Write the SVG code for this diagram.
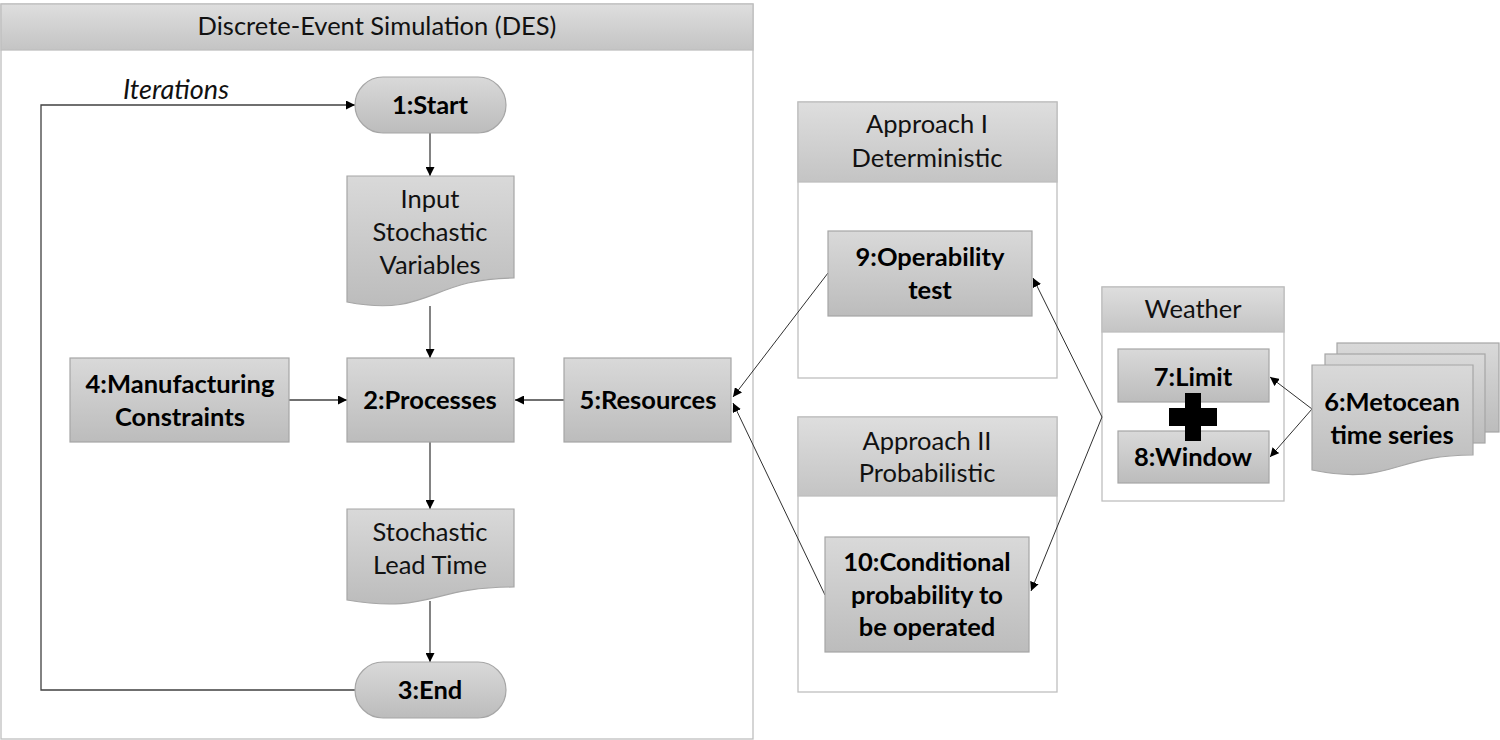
<svg xmlns="http://www.w3.org/2000/svg" width="1500" height="740" viewBox="0 0 1500 740">
<defs>
<linearGradient id="g" x1="0" y1="0" x2="0" y2="1">
<stop offset="0" stop-color="#d9d9d9"/>
<stop offset="1" stop-color="#bcbcbc"/>
</linearGradient>
<linearGradient id="gh" x1="0" y1="0" x2="0" y2="1">
<stop offset="0" stop-color="#dedede"/>
<stop offset="1" stop-color="#c4c4c4"/>
</linearGradient>
<marker id="ah" viewBox="0 0 10 10" refX="10" refY="5" markerWidth="9" markerHeight="9" markerUnits="userSpaceOnUse" orient="auto">
<path d="M0,0 L10,5 L0,10 Z" fill="#000"/>
</marker>
</defs>
<style>
.cont{fill:#fff;stroke:#bfbfbf;stroke-width:1.3}
.hdr{fill:url(#gh);stroke:#bfbfbf;stroke-width:1.3}
.node{fill:url(#g);stroke:#a6a6a6;stroke-width:1.2}
.t{font-family:Lato,"Open Sans","Liberation Sans",sans-serif;font-size:25.5px;fill:#111;text-anchor:middle}
.b{font-weight:bold;fill:#000}
.i{font-style:italic;text-anchor:start;font-size:27px}
.c{fill:none;stroke:#404040;stroke-width:1.3}
.d{fill:none;stroke:#303030;stroke-width:1}
</style>

<g id="des">
<rect class="cont" x="1" y="4" width="752" height="735"/>
<rect class="hdr" x="1" y="4" width="752" height="46"/>
<text class="t" x="377" y="35">Discrete-Event Simulation (DES)</text>
</g>

<g id="approach1">
<rect class="cont" x="798" y="102" width="259" height="276"/>
<rect class="hdr" x="798" y="102" width="259" height="80"/>
<text class="t" x="927" y="133">Approach I</text>
<text class="t" x="927" y="167">Deterministic</text>
</g>

<g id="approach2">
<rect class="cont" x="798" y="417" width="259" height="275"/>
<rect class="hdr" x="798" y="417" width="259" height="79"/>
<text class="t" x="927" y="450">Approach II</text>
<text class="t" x="927" y="482">Probabilistic</text>
</g>

<g id="weather">
<rect class="cont" x="1102" y="287" width="182" height="214"/>
<rect class="hdr" x="1102" y="287" width="182" height="45"/>
<text class="t" x="1193" y="318">Weather</text>
</g>

<g id="connectors">
<path class="c" d="M355,690 H41 V105 H355" marker-end="url(#ah)"/>
<path class="c" d="M430,133 V176" marker-end="url(#ah)"/>
<path class="c" d="M430,306 V358" marker-end="url(#ah)"/>
<path class="c" d="M289,400 H347" marker-end="url(#ah)"/>
<path class="c" d="M564,400 H515" marker-end="url(#ah)"/>
<path class="c" d="M430,442 V509" marker-end="url(#ah)"/>
<path class="c" d="M430,601 V662" marker-end="url(#ah)"/>
<path class="d" d="M828,273 L733,397" marker-end="url(#ah)"/>
<path class="d" d="M825,595 L733,403" marker-end="url(#ah)"/>
<path class="d" d="M1102,417 L1033,278" marker-end="url(#ah)"/>
<path class="d" d="M1102,417 L1031,591" marker-end="url(#ah)"/>
<path class="d" d="M1312,409 L1270,377" marker-end="url(#ah)"/>
<path class="d" d="M1312,409 L1270,457" marker-end="url(#ah)"/>
</g>

<g id="n1">
<rect class="node" x="355" y="77" width="151" height="56" rx="28"/>
<text class="t b" x="430" y="114">1:Start</text>
</g>

<g id="input">
<path class="node" d="M347,176 H514 V278 C430,278 430,318 347,302 Z"/>
<text class="t" x="430" y="208">Input</text>
<text class="t" x="430" y="241">Stochastic</text>
<text class="t" x="430" y="274">Variables</text>
</g>

<g id="n2">
<rect class="node" x="347" y="358" width="167" height="84"/>
<text class="t b" x="430" y="409">2:Processes</text>
</g>

<g id="n4">
<rect class="node" x="70" y="358" width="219" height="84"/>
<text class="t b" x="180" y="393">4:Manufacturing</text>
<text class="t b" x="180" y="426">Constraints</text>
</g>

<g id="n5">
<rect class="node" x="564" y="358" width="167" height="84"/>
<text class="t b" x="648" y="409">5:Resources</text>
</g>

<g id="leadtime">
<path class="node" d="M347,509 H514 V587 C430,587 430,614 347,600 Z"/>
<text class="t" x="430" y="541">Stochastic</text>
<text class="t" x="430" y="574">Lead Time</text>
</g>

<g id="n3">
<rect class="node" x="355" y="662" width="151" height="56" rx="28"/>
<text class="t b" x="430" y="699">3:End</text>
</g>

<g id="n9">
<rect class="node" x="828" y="231" width="204" height="85"/>
<text class="t b" x="930" y="266">9:Operability</text>
<text class="t b" x="930" y="299">test</text>
</g>

<g id="n10">
<rect class="node" x="825" y="537" width="204" height="115"/>
<text class="t b" x="927" y="571">10:Conditional</text>
<text class="t b" x="927" y="604">probability to</text>
<text class="t b" x="927" y="636">be operated</text>
</g>

<g id="n7">
<rect class="node" x="1118" y="349" width="151" height="53"/>
<text class="t b" x="1193" y="386">7:Limit</text>
</g>

<g id="n8">
<rect class="node" x="1118" y="431" width="151" height="52"/>
<text class="t b" x="1193" y="466">8:Window</text>
</g>

<g id="plus">
<path d="M1185,393 H1201 V408 H1217 V426 H1201 V441 H1185 V426 H1169 V408 H1185 Z" fill="#000"/>
</g>

<g id="n6">
<rect class="node" x="1337" y="343" width="162" height="89"/>
<rect class="node" x="1325" y="354" width="160" height="89"/>
<path class="node" d="M1312,365 H1473 V455 C1392,455 1392,486 1312,470 Z"/>
<text class="t b" x="1392" y="411">6:Metocean</text>
<text class="t b" x="1392" y="444">time series</text>
</g>

<text class="t i" x="123" y="99">Iterations</text>
</svg>
